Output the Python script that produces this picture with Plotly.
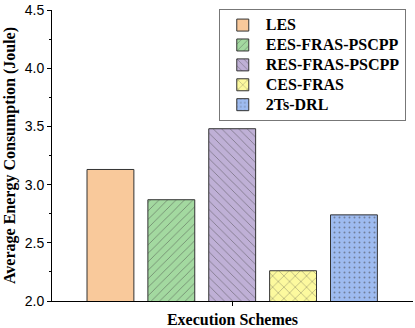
import plotly.graph_objects as go

schemes = ["LES", "EES-FRAS-PSCPP", "RES-FRAS-PSCPP", "CES-FRAS", "2Ts-DRL"]
energy = [3.13, 2.87, 3.48, 2.26, 2.74]
positions = [1, 2, 3, 4, 5]
colors = ["#F9C99B", "#A3D9A0", "#BFB0D6", "#FCF99E", "#9EBBF0"]
patterns = ["", "/", "\\", "x", "."]
pattern_sizes = [8, 6, 6, 8, 5]
pattern_solidity = [0.15, 0.15, 0.15, 0.15, 0.12]

fig = go.Figure()
for i, name in enumerate(schemes):
    fig.add_trace(go.Bar(
        x=[positions[i]], y=[energy[i]],
        name="<span style='font-size:16px'><b>" + name + "</b></span>",
        width=0.77,
        marker=dict(color=colors[i],
                    line=dict(color="#333333", width=1),
                    pattern=dict(shape=patterns[i], fgcolor="#444444",
                                 size=pattern_sizes[i], solidity=pattern_solidity[i])),
    ))

fig.update_layout(
    width=415, height=328,
    margin=dict(l=52, r=2, t=10, b=27, autoexpand=False),
    plot_bgcolor="white", paper_bgcolor="white",
    showlegend=True,
    legend=dict(x=0.98, xanchor="right", y=1.003, yanchor="top",
                bordercolor="#777777", borderwidth=1, bgcolor="white",
                font=dict(family="Liberation Serif", size=13, color="black"),
                traceorder="normal", itemwidth=36),
    xaxis=dict(range=[0.04, 5.97], showline=True, linecolor="black", linewidth=1,
               tickvals=[3], ticktext=[""], ticks="outside", ticklen=4,
               tickcolor="black", showgrid=False, zeroline=False, automargin=False,
               title=dict(text="<b>Execution Schemes</b>", standoff=6,
                          font=dict(family="Liberation Serif", size=16, color="black"))),
    yaxis=dict(range=[2, 4.5], showline=True, linecolor="black", linewidth=1,
               tickvals=[2.0, 2.5, 3.0, 3.5, 4.0, 4.5],
               ticktext=["2.0", "2.5", "3.0", "3.5", "4.0", "4.5"],
               ticks="outside", ticklen=4, tickcolor="black",
               minor=dict(dtick=0.25, ticks="outside", ticklen=2, tickcolor="black"),
               showgrid=False, zeroline=False, automargin=False,
               tickfont=dict(family="Liberation Sans", size=14, color="black"),
               title=dict(text="<b>Average Energy Consumption (Joule)</b>", standoff=5,
                          font=dict(family="Liberation Serif", size=16, color="black"))),
)

fig.write_html("out.html", config={"displayModeBar": False},
               post_script="document.body.style.margin='0';document.body.style.overflow='hidden';")
